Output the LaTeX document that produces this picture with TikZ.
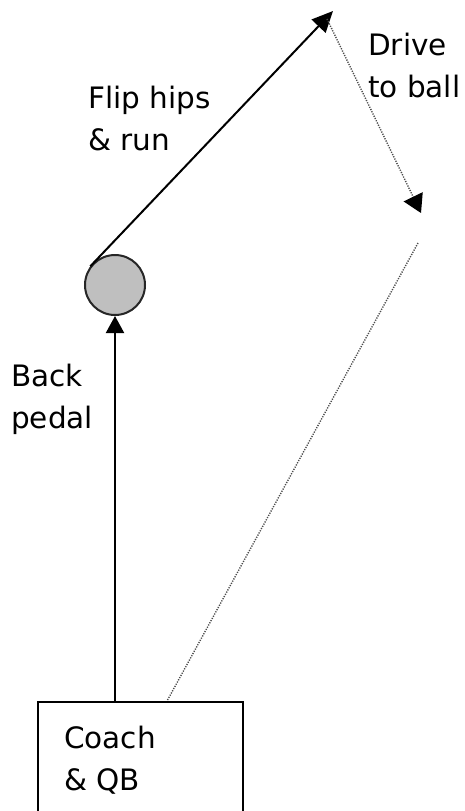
\documentclass[tikz,border=0pt]{standalone}
\usepackage{fontspec}
\setmainfont{DejaVu Sans}
\usetikzlibrary{arrows.meta}
\tikzset{
  lbl/.style={anchor=base west, inner sep=0pt, align=left, font=\fontsize{29.5}{42}\selectfont},
  solidln/.style={line width=2pt, draw=black},
  dotln/.style={line width=1.4pt, draw=black!70, dash pattern=on 1.2pt off 1.3pt},
  playerst/.style={circle, draw=black!85, line width=2pt, fill=black!25, minimum size=60pt, inner sep=0pt},
  boxst/.style={draw=black, line width=2pt, minimum width=205pt, minimum height=140pt, anchor=north west, inner sep=0pt},
}
\begin{document}
\begin{tikzpicture}[x=1pt,y=-1pt]
\clip (0,0) rectangle (465,811);
\node[boxst] (qb) at (37,701) {};
\node[lbl] (qbtxt) at (64,790) {Coach\\\& QB};
\node[playerst] (player) at (115,285) {};
\coordinate (turn) at (333,11);
\coordinate (drivestart) at (327,19);
\coordinate (ball) at (421,213);
\coordinate (retstart) at (418,243);
\coordinate (retend) at (qb.north west -| 167,0);
\draw[solidln, -{Triangle[width=18pt,length=17pt]}] (player |- qb.north) -- (player.south);
\draw[solidln, -{Triangle[width=19pt,length=21pt]}] (player.143) -- (turn);
\draw[dotln, -{Triangle[width=21pt,length=18pt,color=black,fill=black]}] (drivestart) -- (ball);
\draw[dotln] (retstart) -- (retend);
\node[lbl] (flip) at (88,150) {Flip hips\\\& run};
\node[lbl] (drive) at (368,97) {Drive\\to ball};
\node[lbl] (back) at (11,428) {Back\\pedal};
\end{tikzpicture}
\end{document}
